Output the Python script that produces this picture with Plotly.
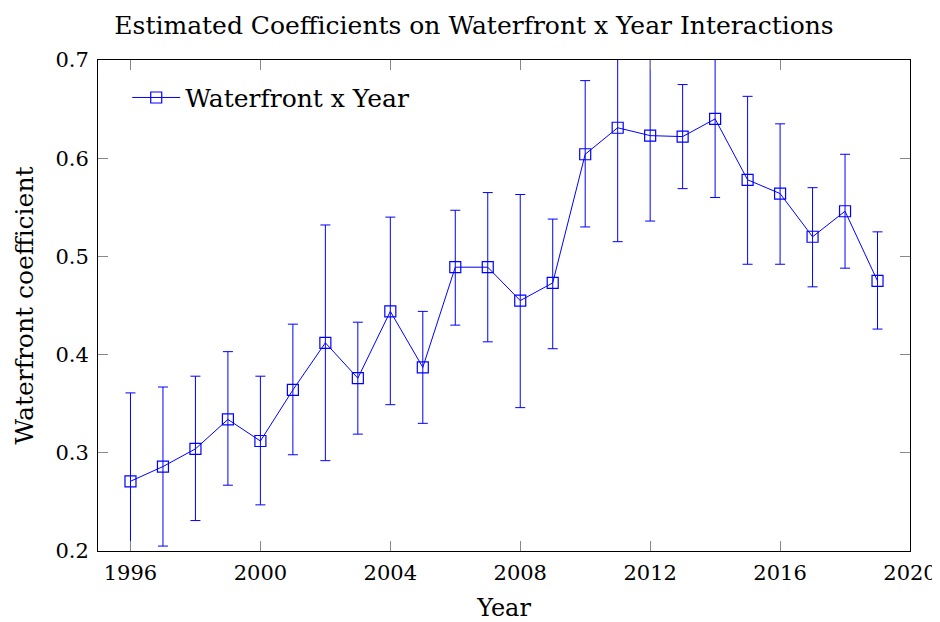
import plotly.graph_objects as go

years = list(range(1996, 2020))
coef = [0.271, 0.286, 0.304, 0.334, 0.312, 0.364, 0.412, 0.376, 0.444, 0.387,
        0.489, 0.489, 0.455, 0.473, 0.604, 0.631, 0.623, 0.622, 0.640, 0.578,
        0.564, 0.520, 0.546, 0.475]
upper = [0.361, 0.367, 0.378, 0.403, 0.378, 0.431, 0.532, 0.433, 0.540, 0.444,
         0.547, 0.565, 0.563, 0.538, 0.679, 0.747, 0.710, 0.675, 0.720, 0.663,
         0.635, 0.570, 0.604, 0.525]
lower = [0.181, 0.205, 0.231, 0.267, 0.247, 0.298, 0.292, 0.319, 0.349, 0.330,
         0.430, 0.413, 0.346, 0.406, 0.530, 0.515, 0.536, 0.569, 0.560, 0.492,
         0.492, 0.469, 0.488, 0.426]
x_ticks = [1996, 2000, 2004, 2008, 2012, 2016, 2020]
y_ticks = [0.2, 0.3, 0.4, 0.5, 0.6, 0.7]

err_plus = [u - c for u, c in zip(upper, coef)]
err_minus = [c - l for c, l in zip(coef, lower)]

BLUE = "#0000ff"
FONT = "DejaVu Serif, serif"

fig = go.Figure()
fig.add_trace(go.Scatter(
    x=years, y=coef, mode="lines+markers", name="Waterfront x Year",
    line=dict(color=BLUE, width=1),
    marker=dict(symbol="square-open", size=11, color=BLUE, line=dict(width=1.2, color=BLUE)),
    error_y=dict(type="data", symmetric=False, array=err_plus, arrayminus=err_minus,
                 color=BLUE, thickness=1, width=5),
))

axis_common = dict(
    showgrid=False, zeroline=False, showline=True, linecolor="black", linewidth=1,
    mirror="ticks", ticks="inside", ticklen=10, tickcolor="#888888", tickwidth=1,
    tickfont=dict(family=FONT, size=21, color="black"), automargin=False,
)

fig.update_layout(
    width=932, height=614,
    margin=dict(l=90, r=30, t=52, b=71),
    paper_bgcolor="white", plot_bgcolor="white",
    title=dict(text="Estimated Coefficients on Waterfront x Year Interactions",
               x=0.5, xanchor="center", y=0.972, yanchor="middle",
               font=dict(family=FONT, size=25, color="black")),
    xaxis=dict(range=[1995, 2020], tickvals=x_ticks, ticklabelstandoff=3,
               title=dict(text="Year", font=dict(family=FONT, size=24, color="black"), standoff=18),
               **axis_common),
    yaxis=dict(range=[0.2, 0.7], tickvals=y_ticks, tickformat=".1f", ticklabelstandoff=4,
               title=dict(text="Waterfront coefficient", font=dict(family=FONT, size=25, color="black"), standoff=14),
               **axis_common),
    legend=dict(x=0.036, y=0.97, xanchor="left", yanchor="top", itemwidth=48,
                bgcolor="rgba(255,255,255,0)", borderwidth=0,
                font=dict(family=FONT, size=25, color="black")),
    showlegend=True,
)

fig.write_html("out.html")
